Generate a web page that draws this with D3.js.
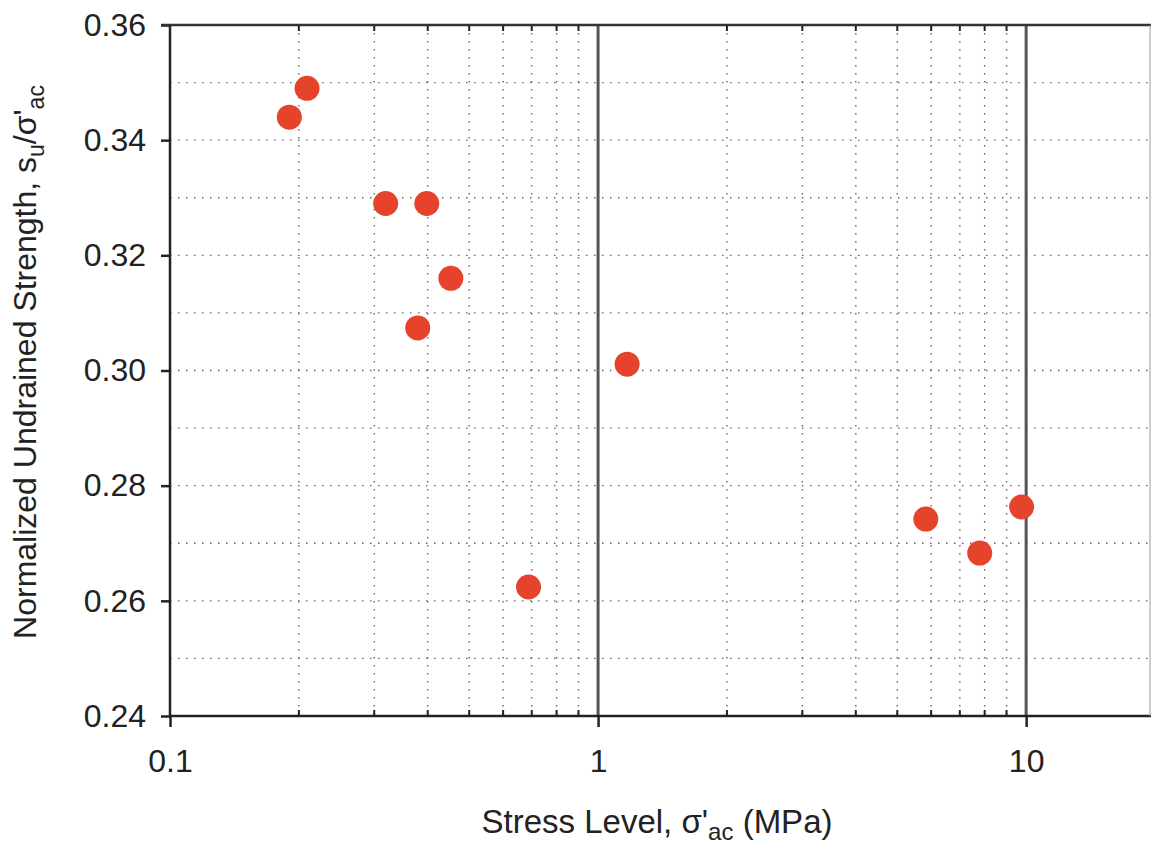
<!DOCTYPE html>
<html>
<head>
<meta charset="utf-8">
<script src="https://cdn.jsdelivr.net/npm/d3@7"></script>
<style>
  body { margin: 0; background: #fff; }
  svg { display: block; font-family: "Liberation Sans", Arial, sans-serif; }
</style>
</head>
<body>
<script>
// data
const stress   = [0.19, 0.209, 0.319, 0.398, 0.453, 0.379, 0.688, 1.169, 5.83, 7.79, 9.76];
const strength = [0.344, 0.349, 0.329, 0.329, 0.316, 0.3074, 0.2624, 0.3011, 0.2742, 0.2683, 0.2763];
const xTicks = [0.1, 1, 10];
const yTicks = [0.24, 0.26, 0.28, 0.30, 0.32, 0.34, 0.36];
const yGrid  = [0.25, 0.26, 0.27, 0.28, 0.29, 0.30, 0.31, 0.32, 0.33, 0.34, 0.35];

const w = 1151, h = 848;
const mLeft = 170, mTop = 25, mBottom = 716;

const svg = d3.select('body').append('svg')
    .attr('width', w)
    .attr('height', h);

const x = d3.scaleLog().domain([0.1, 20]).range([mLeft, 1155]);
const y = d3.scaleLinear().domain([0.24, 0.36]).range([mBottom, mTop]);

// minor x values 2..9 per decade
const minorX = [];
[0.1, 1, 10].forEach(dec => {
    for (let k = 2; k <= 9; k++) {
        const v = dec * k;
        if (v < 20) minorX.push(v);
    }
});

// dotted grid
const grid = svg.append('g');
grid.selectAll('.hg')
    .data(yGrid)
    .enter()
    .append('line')
    .attr('x1', mLeft).attr('x2', w)
    .attr('y1', d => y(d)).attr('y2', d => y(d))
    .attr('stroke', '#666')
    .attr('stroke-width', 1.4)
    .attr('stroke-dasharray', '1.5,6.5');

grid.selectAll('.vg')
    .data(minorX)
    .enter()
    .append('line')
    .attr('x1', d => x(d)).attr('x2', d => x(d))
    .attr('y1', mTop).attr('y2', mBottom)
    .attr('stroke', '#666')
    .attr('stroke-width', 1.4)
    .attr('stroke-dasharray', '1.5,6.5');

// major vertical lines at 1 and 10
grid.selectAll('.mg')
    .data([1, 10])
    .enter()
    .append('line')
    .attr('x1', d => x(d)).attr('x2', d => x(d))
    .attr('y1', mTop).attr('y2', mBottom)
    .attr('stroke', '#555')
    .attr('stroke-width', 3);

// minor ticks (inside, bottom and top)
svg.selectAll('.mtb')
    .data(minorX)
    .enter()
    .append('line')
    .attr('x1', d => x(d)).attr('x2', d => x(d))
    .attr('y1', mBottom).attr('y2', mBottom - 6)
    .attr('stroke', '#222')
    .attr('stroke-width', 2);
svg.selectAll('.mtt')
    .data(minorX)
    .enter()
    .append('line')
    .attr('x1', d => x(d)).attr('x2', d => x(d))
    .attr('y1', mTop).attr('y2', mTop + 6)
    .attr('stroke', '#222')
    .attr('stroke-width', 2);

// axes
const yAxis = svg.append('g')
    .attr('transform', `translate(${mLeft},0)`)
    .call(d3.axisLeft(y).tickValues(yTicks).tickSize(9).tickPadding(15)
        .tickFormat(d3.format('.2f')));

const xAxis = svg.append('g')
    .attr('transform', `translate(0,${mBottom})`)
    .call(d3.axisBottom(x).tickValues(xTicks).tickSize(11).tickPadding(22)
        .tickFormat(d => String(d)));

[yAxis, xAxis].forEach(g => {
    g.select('.domain').remove();
    g.selectAll('line').attr('stroke', '#222').attr('stroke-width', 2.5);
    g.selectAll('text')
        .attr('font-family', '"Liberation Sans", Arial, sans-serif')
        .attr('font-size', 32)
        .attr('fill', '#222');
});

// frame
svg.append('line')
    .attr('x1', mLeft - 9).attr('x2', w)
    .attr('y1', mTop).attr('y2', mTop)
    .attr('stroke', '#333').attr('stroke-width', 2.5);
svg.append('line')
    .attr('x1', mLeft).attr('x2', mLeft)
    .attr('y1', mTop).attr('y2', mBottom)
    .attr('stroke', '#222').attr('stroke-width', 2.5);
svg.append('line')
    .attr('x1', mLeft).attr('x2', w)
    .attr('y1', mBottom).attr('y2', mBottom)
    .attr('stroke', '#222').attr('stroke-width', 2.5);
svg.append('line')
    .attr('x1', w - 1).attr('x2', w - 1)
    .attr('y1', mTop).attr('y2', mBottom)
    .attr('stroke', '#999').attr('stroke-width', 1);

// points
svg.selectAll('circle')
    .data(stress.map((s, i) => [s, strength[i]]))
    .enter()
    .append('circle')
    .attr('cx', d => x(d[0]))
    .attr('cy', d => y(d[1]))
    .attr('r', 12.5)
    .attr('fill', '#e5432b');

// x title
const xt = svg.append('text')
    .attr('x', 657)
    .attr('y', 833)
    .attr('text-anchor', 'middle')
    .attr('font-size', 33)
    .attr('fill', '#222');
xt.append('tspan').text("Stress Level, σ'");
xt.append('tspan').attr('font-size', 24).attr('dy', 7).text('ac');
xt.append('tspan').attr('dy', -7).text(' (MPa)');

// y title
const yt = svg.append('text')
    .attr('transform', 'translate(36,362) rotate(-90)')
    .attr('text-anchor', 'middle')
    .attr('font-size', 32)
    .attr('fill', '#222');
yt.append('tspan').text('Normalized Undrained Strength, s');
yt.append('tspan').attr('font-size', 23).attr('dy', 8).text('u');
yt.append('tspan').attr('dy', -8).text("/σ'");
yt.append('tspan').attr('font-size', 23).attr('dy', 8).text('ac');
</script>
</body>
</html>
